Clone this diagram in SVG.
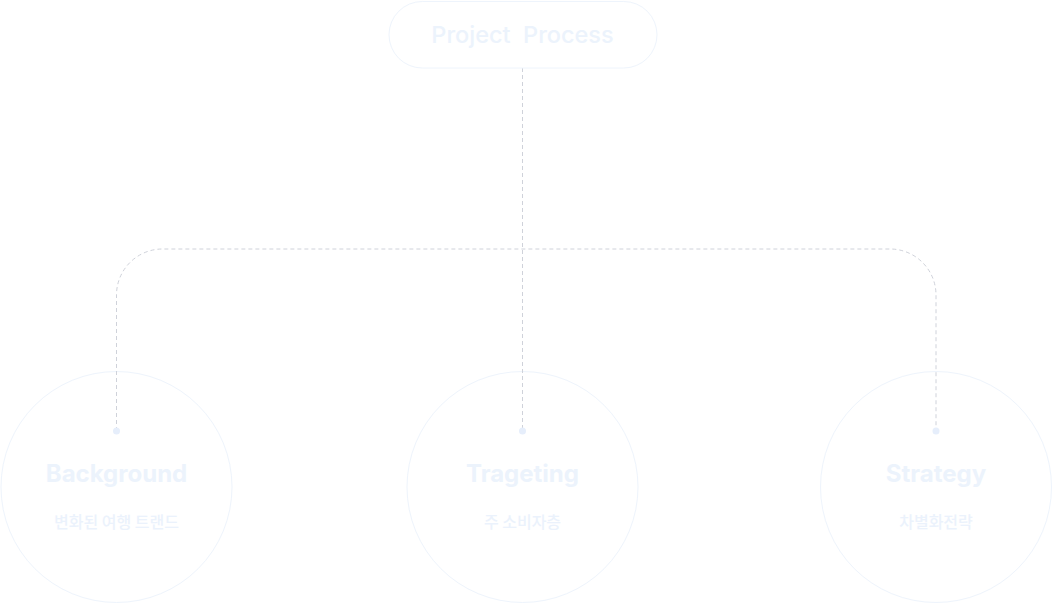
<svg xmlns="http://www.w3.org/2000/svg" width="1053" height="604" viewBox="0 0 1053 604">
<style>
.bg{fill:#ffffff}
.conn{fill:none;stroke:#cfd2da;stroke-width:1;stroke-dasharray:4 3}
.pill{fill:#ffffff;stroke:#eef4fc;stroke-width:1}
.circ{fill:#ffffff;stroke:#eef4fc;stroke-width:1}
.dot{fill:#e6eefb}
.ptxt{font-family:Inter,"Noto Sans",sans-serif;font-size:23.5px;font-weight:500;fill:#ecf3fc;text-anchor:middle}
.ttl{font-family:Inter,"Noto Sans",sans-serif;font-size:24px;font-weight:700;fill:#ecf3fc;text-anchor:middle}
.sub{font-family:"Noto Sans CJK KR",sans-serif;font-size:16px;font-weight:500;fill:#ebf2fc;text-anchor:middle}
</style>
<rect class="bg" x="0" y="0" width="1053" height="604"/>
<g id="node-background">
<circle class="circ" cx="116.5" cy="487" r="115.5"/>
<text class="ttl" x="116.5" y="482">Background</text>
<text class="sub" x="116.5" y="528">변화된 여행 트랜드</text>
</g>
<g id="node-trageting">
<circle class="circ" cx="522.5" cy="487" r="115.5"/>
<text class="ttl" x="522.5" y="482">Trageting</text>
<text class="sub" x="522.5" y="528">주 소비자층</text>
</g>
<g id="node-strategy">
<circle class="circ" cx="936" cy="487" r="115.5"/>
<text class="ttl" x="936" y="482">Strategy</text>
<text class="sub" x="936" y="528">차별화전략</text>
</g>
<g id="connectors">
<path class="conn" d="M522.5 68 V431"/>
<path class="conn" d="M116.5 431 V295 A46 46 0 0 1 162.5 249 H890 A46 46 0 0 1 936 295 V431"/>
<circle class="dot" cx="116.5" cy="431" r="3.5"/>
<circle class="dot" cx="522.5" cy="431" r="3.5"/>
<circle class="dot" cx="936" cy="431" r="3.5"/>
</g>
<g id="node-project-process">
<rect class="pill" x="389" y="1.5" width="268" height="66.5" rx="33.25"/>
<text class="ptxt" x="522.5" y="42.5" xml:space="preserve">Project  Process</text>
</g>
</svg>
